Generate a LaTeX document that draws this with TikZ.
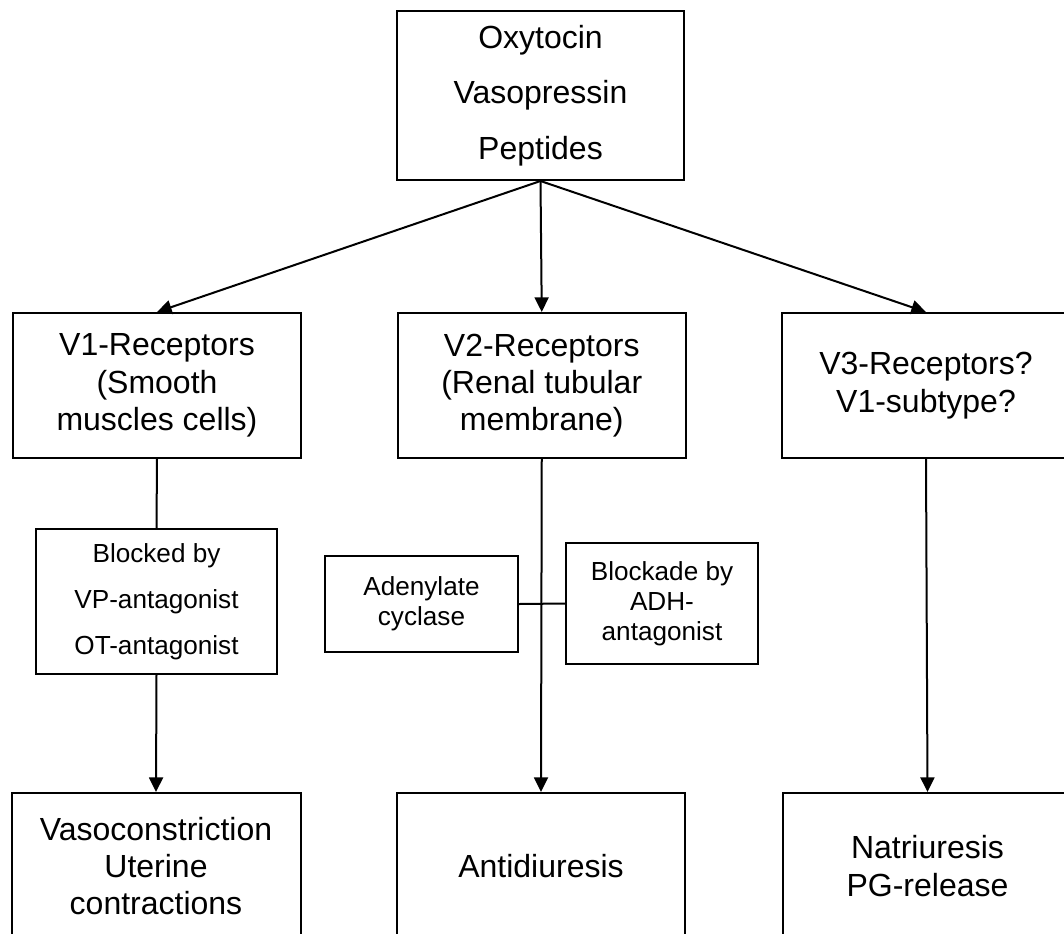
\documentclass[tikz,border=0pt]{standalone}
\usepackage{fontspec}
\setmainfont{Liberation Sans}
\usepackage{tikz}
\usetikzlibrary{arrows.meta}
\tikzstyle{box}=[draw,rectangle,align=center,inner sep=0pt]
\newcommand{\bigtxt}{\fontsize{24}{28}\selectfont}
\newcommand{\smalltxt}{\fontsize{19.6}{22.5}\selectfont}

\begin{document}
\begin{tikzpicture}[x=0.75pt,y=-0.75pt,line width=1.5pt]
		\tikzstyle{arrow} = [-{Triangle[length=11pt, width=10.5pt]}]
		\clip (0,0) rectangle (1064,933);
		
		% peptides
		\node[box,minimum width=215.25pt,minimum height=126.75pt,font=\fontsize{24}{41.6}\selectfont] (pep) at (540.5,95.5) {Oxytocin\\Vasopressin\\Peptides};
		
		% receptors
		\node[box,minimum width=216pt,minimum height=108.75pt,font=\bigtxt] (vone) at (157,385.5) {V1-Receptors\\(Smooth\\muscles cells)};
		\node[box,minimum width=216pt,minimum height=108.75pt,font=\bigtxt] (vtwo) at (541.75,385.5) {V2-Receptors\\(Renal tubular\\membrane)};
		\node[box,minimum width=216pt,minimum height=108.75pt,font=\bigtxt] (vthree) at (926,385.5) {V3-Receptors?\\V1-subtype?};
		
		% side boxes
		\node[box,minimum width=180.75pt,minimum height=108.75pt,font=\fontsize{19.6}{34.5}\selectfont] (blocked) at (156.5,601.5) {Blocked by\\VP-antagonist\\OT-antagonist};
		\node[box,minimum width=144.75pt,minimum height=72pt,font=\smalltxt] (aden) at (421.5,604) {Adenylate\\cyclase};
		\node[box,minimum width=144pt,minimum height=90.75pt,font=\smalltxt] (blockade) at (662,603.5) {Blockade by\\ADH-\\antagonist};
		
		% effects
		\node[box,minimum width=216.75pt,minimum height=109.5pt,font=\bigtxt] (vaso) at (156,866) {Vasoconstriction\\Uterine\\contractions};
		\node[box,minimum width=216pt,minimum height=109.5pt,font=\bigtxt] (anti) at (541,866) {Antidiuresis};
		\node[box,minimum width=216.75pt,minimum height=109.5pt,font=\bigtxt] (natri) at (927.5,866) {Natriuresis\\PG-release};
		
		\draw[arrow] (pep.south) -- (vone.north);
		\draw[arrow] (pep.south) -- (vtwo.north);
		\draw[arrow] (pep.south) -- (vthree.north);
		
		\draw (vone.south) -- (blocked.north);
		\draw[arrow] (blocked.south) -- (vaso.north);
		
		\draw[arrow] (vtwo.south) -- (anti.north);
		\draw (aden.east) -- (blockade.west);
		
		\draw[arrow] (vthree.south) -- (natri.north);
		
	\end{tikzpicture}
\end{document}
